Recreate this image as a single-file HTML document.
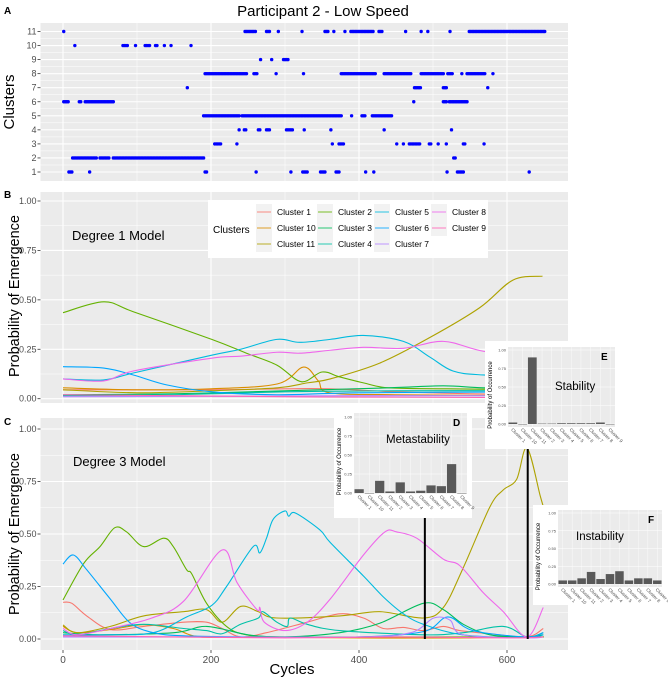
<!DOCTYPE html>
<html><head><meta charset="utf-8">
<style>
html,body{margin:0;padding:0;background:#fff;}
svg{display:block;font-family:"Liberation Sans",sans-serif;}
</style></head>
<body>
<svg id="fig" width="668" height="678" viewBox="0 0 668 678"></svg>
<script>
// ===== data =====
const clusterNames = ["Cluster 1","Cluster 10","Cluster 11","Cluster 2","Cluster 3","Cluster 4","Cluster 5","Cluster 6","Cluster 7","Cluster 8","Cluster 9"];
const clusterColors = ["#F8766D","#DB8E00","#AEA200","#64B200","#00BD5C","#00C1A7","#00BADE","#00A6FF","#B385FF","#EF67EB","#FF63B6"];
const xTicks = [0,200,400,600];
const probTicks = [0,0.25,0.5,0.75,1];
const probTickLabels = ["0.00","0.25","0.50","0.75","1.00"];
const clusterTicks = [1,2,3,4,5,6,7,8,9,10,11];
// Panel A: runs of cycles [start,end] for each cluster id
const runs1 = [[8,12],[36,36],[192,195],[261,261],[308,308],[324,331],[348,354],[369,373],[409,409],[420,420],[519,519],[533,541],[630,630]];
const runs2 = [[13,45],[50,62],[68,190],[528,530]];
const runs3 = [[205,214],[235,235],[364,364],[373,380],[451,451],[460,460],[468,482],[495,498],[507,507],[518,518],[541,544],[569,569]];
const runs4 = [[238,238],[245,248],[264,267],[275,279],[302,310],[326,326],[362,362],[434,434],[525,525]];
const runs5 = [[190,238],[242,376],[390,390],[404,408],[418,444]];
const runs6 = [[1,7],[22,24],[30,69],[474,474],[514,518],[522,546]];
const runs7 = [[168,168],[475,483],[514,518],[574,574]];
const runs8 = [[192,248],[258,263],[288,288],[325,325],[376,422],[434,471],[484,514],[520,526],[539,539],[546,571],[581,581]];
const runs9 = [[267,267],[282,282],[298,304]];
const runs10 = [[16,16],[81,88],[98,98],[111,117],[125,128],[137,137],[146,146],[173,173]];
const runs11 = [[1,1],[246,260],[275,280],[291,291],[323,323],[354,359],[366,366],[381,381],[389,420],[427,432],[463,463],[484,484],[493,493],[523,523],[549,652]];
// Panel B (degree 1) curves: [cycle, prob]
const b_c1 = [[0,0.045],[100,0.045],[200,0.045],[300,0.05],[360,0.05],[450,0.035],[550,0.025],[650,0.02]];
const b_c10 = [[0,0.055],[100,0.045],[200,0.05],[290,0.075],[325,0.16],[345,0.09],[360,0.03],[450,0.02],[650,0.015]];
const b_c11 = [[0,0.045],[100,0.03],[200,0.04],[290,0.055],[330,0.08],[361,0.10],[428,0.18],[496,0.31],[563,0.46],[608,0.60],[648,0.62]];
const b_c2 = [[0,0.435],[55,0.49],[95,0.44],[201,0.30],[248,0.23],[289,0.17],[322,0.086],[350,0.135],[374,0.11],[406,0.08],[440,0.055],[520,0.05],[650,0.045]];
const b_c3 = [[0,0.02],[150,0.025],[300,0.04],[440,0.055],[514,0.065],[568,0.055],[650,0.05]];
const b_c4 = [[0,0.015],[150,0.02],[300,0.035],[450,0.04],[650,0.04]];
const b_c5 = [[0,0.10],[55,0.095],[95,0.13],[201,0.22],[240,0.25],[289,0.30],[320,0.285],[361,0.30],[406,0.32],[460,0.29],[496,0.21],[527,0.14],[568,0.12],[650,0.11]];
const b_c6 = [[0,0.162],[55,0.155],[95,0.12],[140,0.07],[201,0.035],[289,0.02],[400,0.03],[650,0.035]];
const b_c7 = [[0,0.01],[200,0.012],[400,0.015],[650,0.015]];
const b_c8 = [[0,0.10],[55,0.09],[95,0.14],[201,0.205],[240,0.215],[289,0.235],[320,0.23],[361,0.245],[406,0.26],[460,0.255],[514,0.29],[568,0.24],[650,0.20]];
const b_c9 = [[0,0.02],[150,0.015],[300,0.01],[450,0.008],[650,0.005]];
// Panel C (degree 3) curves
const c_c1 = [[0,0.175],[12,0.17],[32,0.11],[64,0.045],[109,0.06],[163,0.08],[194,0.08],[215,0.05],[240,0.01],[275,0.03],[330,0.08],[374,0.12],[406,0.10],[433,0.05],[460,0.055],[487,0.04],[514,0.06],[536,0.04],[577,0.025],[627,0.01],[649,0.05]];
const c_c10 = [[0,0.06],[19,0.03],[64,0.045],[109,0.068],[149,0.05],[185,0.01],[260,0.01],[400,0.005],[550,0.005],[649,0.01]];
const c_c11 = [[0,0.067],[19,0.03],[64,0.06],[109,0.11],[163,0.13],[194,0.14],[215,0.08],[240,0.155],[264,0.13],[289,0.10],[374,0.11],[428,0.13],[487,0.10],[514,0.15],[541,0.34],[577,0.63],[595,0.71],[613,0.76],[627,0.91],[645,0.68],[650,0.62]];
const c_c2 = [[0,0.186],[28,0.36],[50,0.44],[70,0.53],[86,0.51],[109,0.44],[136,0.48],[149,0.44],[167,0.33],[174,0.31],[194,0.17],[221,0.06],[248,0.02],[300,0.01],[500,0.01],[650,0.01]];
const c_c3 = [[0,0.03],[50,0.02],[150,0.03],[194,0.06],[250,0.02],[300,0.01],[374,0.03],[428,0.075],[487,0.17],[514,0.14],[541,0.07],[577,0.02],[627,0.01],[649,0.02]];
const c_c4 = [[0,0.04],[19,0.02],[64,0.05],[109,0.07],[163,0.05],[194,0.04],[215,0.025],[240,0.07],[264,0.10],[270,0.13],[289,0.08],[303,0.06],[307,0.10],[330,0.07],[374,0.04],[487,0.02],[541,0.03],[595,0.06],[627,0.01],[649,0.03]];
const c_c5 = [[0,0.02],[60,0.02],[122,0.03],[167,0.105],[201,0.16],[221,0.25],[257,0.44],[266,0.41],[275,0.48],[284,0.57],[300,0.61],[305,0.585],[314,0.60],[347,0.52],[361,0.46],[406,0.30],[433,0.20],[460,0.12],[487,0.07],[540,0.02],[627,0.005],[649,0.02]];
const c_c6 = [[0,0.357],[14,0.40],[32,0.33],[64,0.19],[91,0.076],[122,0.03],[163,0.015],[250,0.01],[400,0.01],[487,0.035],[520,0.105],[554,0.04],[627,0.01],[649,0.03]];
const c_c7 = [[0,0.01],[200,0.01],[400,0.01],[470,0.03],[501,0.10],[523,0.09],[541,0.02],[627,0.005],[649,0.01]];
const c_c8 = [[0,0.05],[19,0.02],[64,0.05],[120,0.10],[163,0.18],[215,0.424],[235,0.27],[262,0.14],[266,0.15],[272,0.08],[300,0.04],[330,0.08],[361,0.19],[406,0.40],[435,0.51],[451,0.51],[478,0.48],[514,0.38],[536,0.35],[568,0.22],[595,0.13],[627,0.01],[649,0.15]];
const c_c9 = [[0,0.015],[150,0.01],[300,0.005],[450,0.01],[600,0.005],[649,0.01]];
// Insets
const insetCats = clusterNames;
const insetD = [0.05,0.0,0.16,0.02,0.14,0.02,0.03,0.10,0.09,0.38,0.0];
const insetE = [0.02,0.0,0.90,0.005,0.005,0.01,0.01,0.01,0.01,0.02,0.0];
const insetF = [0.05,0.05,0.08,0.17,0.07,0.14,0.18,0.05,0.08,0.08,0.05];
const lineD = 489, lineE = 628;

// ===== helpers =====
const NS="http://www.w3.org/2000/svg";
const svg=document.getElementById('fig');
function mk(tag,attrs,parent){const e=document.createElementNS(NS,tag);for(const k in attrs)e.setAttribute(k,attrs[k]);(parent||svg).appendChild(e);return e;}
function txt(s,attrs,parent){const e=mk('text',attrs,parent);e.textContent=s;return e;}
const X0=40.5,X1=568;
function xs(c){return 63+c*0.74;}
function smooth(pts){let d='M'+pts[0][0].toFixed(2)+','+pts[0][1].toFixed(2);
 for(let i=0;i<pts.length-1;i++){const p0=pts[Math.max(0,i-1)],p1=pts[i],p2=pts[i+1],p3=pts[Math.min(pts.length-1,i+2)];
 const c1=[p1[0]+(p2[0]-p0[0])/6,p1[1]+(p2[1]-p0[1])/6],c2=[p2[0]-(p3[0]-p1[0])/6,p2[1]-(p3[1]-p1[1])/6];
 d+='C'+c1[0].toFixed(2)+','+c1[1].toFixed(2)+' '+c2[0].toFixed(2)+','+c2[1].toFixed(2)+' '+p2[0].toFixed(2)+','+p2[1].toFixed(2);}
 return d;}

// title
const t=txt('Participant 2 - Low Speed',{x:323,y:16,'font-size':15,'text-anchor':'middle',fill:'#000'});


function panelFrame(name,y0,y1,yfun,ticks,labels,minorVals){
 const g=mk('g',{});
 mk('rect',{x:X0,y:y0,width:X1-X0,height:y1-y0,fill:'#EBEBEB'},g);
 minorVals.forEach(v=>mk('line',{x1:X0,x2:X1,y1:yfun(v),y2:yfun(v),stroke:'#fff','stroke-width':0.5},g));
 [100,300,500].forEach(c=>mk('line',{x1:xs(c),x2:xs(c),y1:y0,y2:y1,stroke:'#fff','stroke-width':0.5},g));
 ticks.forEach((v,i)=>{mk('line',{x1:X0,x2:X1,y1:yfun(v),y2:yfun(v),stroke:'#fff','stroke-width':1.1},g);
  mk('line',{x1:X0-3,x2:X0,y1:yfun(v),y2:yfun(v),stroke:'#333','stroke-width':0.8},g);
  const l=txt(labels[i],{x:X0-4,y:yfun(v)+3,'font-size':9,'text-anchor':'end',fill:'#4D4D4D'},g);
  });
 xTicks.forEach(c=>mk('line',{x1:xs(c),x2:xs(c),y1:y0,y2:y1,stroke:'#fff','stroke-width':1.1},g));
 return g;}

// ===== Panel A =====
const yA=v=>172-(v-1)*14.05;
const gA=panelFrame('panel-a-scatter',23,181,yA,clusterTicks,clusterTicks.map(String),[1.5,2.5,3.5,4.5,5.5,6.5,7.5,8.5,9.5,10.5]);
const runsAll=[runs1,runs2,runs3,runs4,runs5,runs6,runs7,runs8,runs9,runs10,runs11];
runsAll.forEach((rs,ci)=>{rs.forEach(r=>{for(let c=r[0];c<=r[1];c+=2){
 const d=mk('circle',{cx:xs(c),cy:yA(ci+1),r:1.7,fill:'#0000FF'},gA);
 }});});
const la=txt('A',{x:4,y:14,'font-size':10,'font-weight':'bold'});
const ya=txt('Clusters',{x:0,y:0,'font-size':15,'text-anchor':'middle',transform:'translate(14,102) rotate(-90)'});


// ===== Panel B =====
const yB=v=>398.7-v*197.7;
const gB=panelFrame('panel-b-degree1',192,403,yB,probTicks,probTickLabels,[0.125,0.375,0.625,0.875]);
const bSeries=[b_c1,b_c10,b_c11,b_c2,b_c3,b_c4,b_c5,b_c6,b_c7,b_c8,b_c9];
bSeries.forEach((s,i)=>{const p=mk('path',{d:smooth(s.map(q=>[xs(q[0]),yB(q[1])])),fill:'none',stroke:clusterColors[i],'stroke-width':1.1},gB);
 });
const lb=txt('B',{x:4,y:198,'font-size':10,'font-weight':'bold'});
const yb=txt('Probability of Emergence',{x:0,y:0,'font-size':14.5,'text-anchor':'middle',transform:'translate(19,296) rotate(-90)'});

const m1=txt('Degree 1 Model',{x:72,y:240,'font-size':13});

// legend
const lg=mk('g',{});
mk('rect',{x:208,y:200,width:280,height:58,fill:'#fff'},lg);
txt('Clusters',{x:213,y:233,'font-size':10},lg);
const colX=[257,318,375,432],rowY=[212,228,244];
clusterNames.forEach((n,i)=>{const col=Math.floor(i/3),row=i%3;
 const e=mk('g',{},lg);
 mk('rect',{x:colX[col]-1,y:rowY[row]-8,width:16,height:16,fill:'#F2F2F2'},e);
 mk('line',{x1:colX[col],x2:colX[col]+14,y1:rowY[row],y2:rowY[row],stroke:clusterColors[i],'stroke-width':1.4,'stroke-opacity':0.6},e);
 txt(n,{x:colX[col]+20,y:rowY[row]+3,'font-size':8.5,fill:'#000'},e);});

// ===== Panel C =====
const yC=v=>639-v*210;
const gC=panelFrame('panel-c-degree3',418,650,yC,probTicks,probTickLabels,[0.125,0.375,0.625,0.875]);
const cSeries=[c_c1,c_c10,c_c11,c_c2,c_c3,c_c4,c_c5,c_c6,c_c7,c_c8,c_c9];
cSeries.forEach((s,i)=>{const p=mk('path',{d:smooth(s.map(q=>[xs(q[0]),yC(q[1])])),fill:'none',stroke:clusterColors[i],'stroke-width':1.1},gC);
 });
xTicks.forEach(c=>{mk('line',{x1:xs(c),x2:xs(c),y1:650,y2:653,stroke:'#333','stroke-width':0.8});
 const l=txt(String(c),{x:xs(c),y:663,'font-size':10,'text-anchor':'middle',fill:'#4D4D4D'});
 });
const xt=txt('Cycles',{x:292,y:674,'font-size':15,'text-anchor':'middle'});
const lc=txt('C',{x:4,y:425,'font-size':10,'font-weight':'bold'});
const yc=txt('Probability of Emergence',{x:0,y:0,'font-size':14.5,'text-anchor':'middle',transform:'translate(19,534) rotate(-90)'});

const m3=txt('Degree 3 Model',{x:73,y:466,'font-size':13});

// pointer lines
const pl1=mk('line',{x1:xs(lineD),x2:xs(lineD),y1:yC(0),y2:518,stroke:'#000','stroke-width':2});

const pl2=mk('line',{x1:xs(lineE),x2:xs(lineE),y1:yC(0),y2:449,stroke:'#000','stroke-width':2});


// ===== Insets =====
function inset(name,box,pan,vals,letter,title,titlePos){
 const g=mk('g',{});
 mk('rect',{x:box[0],y:box[1],width:box[2]-box[0],height:box[3]-box[1],fill:'#fff'},g);
 const [px0,py0,px1,py1,y1v,y0v]=pan;
 mk('rect',{x:px0,y:py0,width:px1-px0,height:py1-py0,fill:'#EBEBEB'},g);
 const yf=v=>y0v-v*(y0v-y1v);
 probTicks.forEach((v,i)=>{mk('line',{x1:px0,x2:px1,y1:yf(v),y2:yf(v),stroke:'#fff','stroke-width':0.6},g);
  txt(probTickLabels[i],{x:px0-2,y:yf(v)+1.5,'font-size':4,'text-anchor':'end',fill:'#4D4D4D'},g);});
 const bw=(px1-px0)/vals.length;
 vals.forEach((v,i)=>{const cx=px0+bw*(i+0.5);
  mk('line',{x1:cx,x2:cx,y1:py0,y2:py1,stroke:'#fff','stroke-width':0.4},g);
  const b=mk('rect',{x:cx-bw*0.45,y:yf(v),width:bw*0.9,height:Math.max(0.4,yf(0)-yf(v)),fill:'#595959'},g);
  
  txt(insetCats[i],{x:0,y:0,'font-size':4.5,fill:'#4D4D4D',transform:`translate(${cx-2},${py1+3}) rotate(45)`},g);});
 txt('Probability of Occurrence',{x:0,y:0,'font-size':6,'text-anchor':'middle',fill:'#000',transform:`translate(${box[0]+7},${(py0+py1)/2+8}) rotate(-90)`},g);
 txt(letter,{x:px1-14,y:py0+13,'font-size':10,'font-weight':'bold'},g);
 txt(title,{x:titlePos[0],y:titlePos[1],'font-size':11.5},g);}
inset('inset-d-metastability',[334,407,472,518],[354,413,467,494,417,493],insetD,'D','Metastability',[386,443]);
inset('inset-e-stability',[485,341,616,449],[508,347,615,427,350,424],insetE,'E','Stability',[555,390]);
inset('inset-f-instability',[533,505,668,605],[558,510,662,587,513,584],insetF,'F','Instability',[576,540]);
</script>
</body></html>
